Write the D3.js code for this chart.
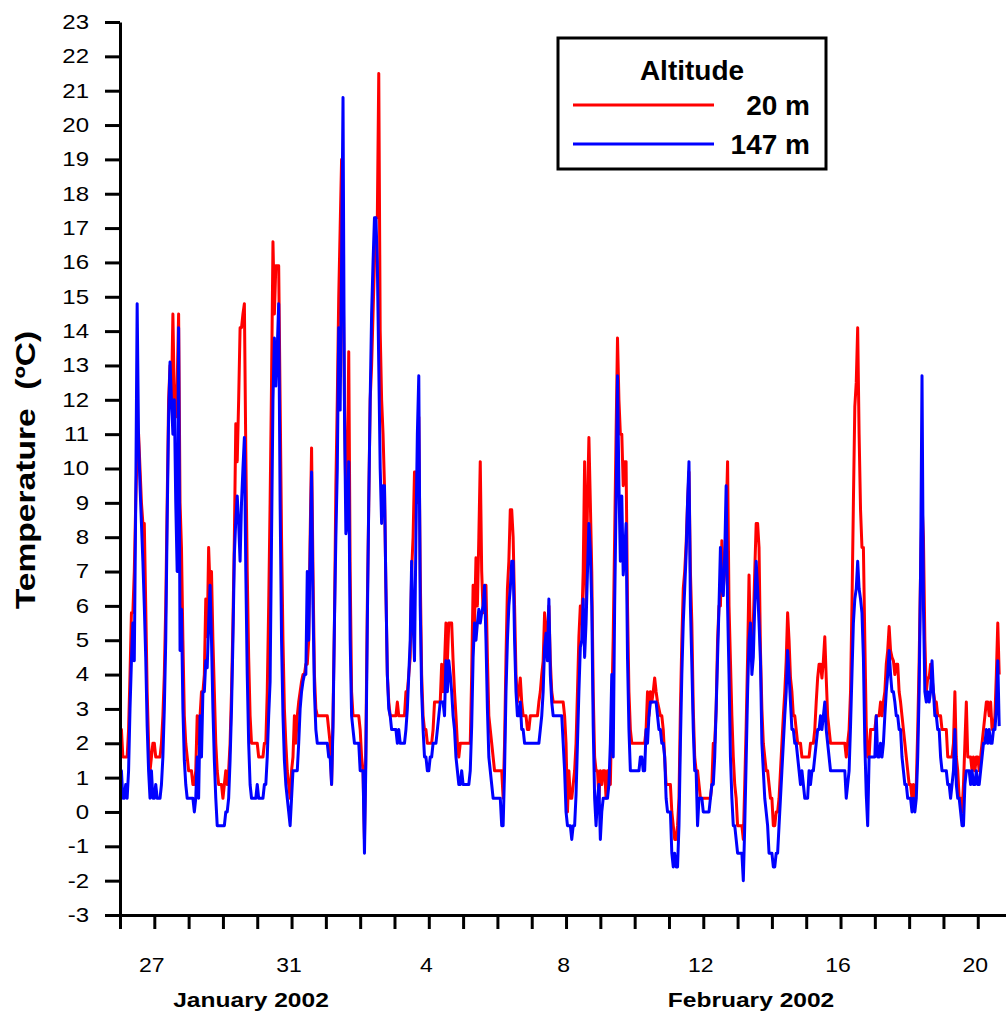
<!DOCTYPE html>
<html>
<head>
<meta charset="utf-8">
<script src="https://cdn.jsdelivr.net/npm/d3@7"></script>
<style>
body { margin: 0; background: #fff; }
svg text { font-family: "Liberation Sans", Arial, Helvetica, sans-serif; fill: #000; }
</style>
</head>
<body>
<svg id="chart" width="1006" height="1014"></svg>
<script>
// hourly readings, first value = 26 Jan 2002 00:00 (one row per day)
var startTime = Date.UTC(2002, 0, 26);

var red20m = [
  2.4,2.4,1.6,1.6,1.6,1.6,2.4,4.0,5.8,5.8,7.0,9.0,10.5,11.0,10.0,9.0,8.4,8.4,6.0,3.5,2.0,1.2,1.6,2.0,
  2.0,1.6,1.6,1.6,1.6,2.0,2.8,4.0,6.0,9.0,12.0,13.0,12.0,14.5,12.0,11.5,12.5,14.5,9.0,7.7,5.0,2.8,2.0,1.6,
  1.2,1.2,1.2,0.8,0.8,1.2,2.8,2.0,2.8,3.5,3.5,4.0,6.2,5.1,7.7,6.5,7.0,5.0,3.5,2.0,1.2,0.8,0.8,0.8,
  0.4,0.8,1.2,0.8,1.2,2.0,3.5,5.5,8.0,11.3,10.2,12.0,14.1,14.1,14.5,14.8,10.5,7.0,4.5,2.8,2.0,2.0,2.0,2.0,
  2.0,1.6,1.6,1.6,1.6,2.0,2.0,3.5,6.0,9.0,12.5,16.6,14.5,15.9,15.9,15.9,12.0,8.0,5.0,3.0,2.0,1.2,0.8,0.4,
  1.2,1.6,2.8,2.0,2.8,3.2,3.5,3.8,4.0,4.0,4.3,4.3,5.0,8.0,10.6,7.0,4.0,3.0,2.8,2.8,2.8,2.8,2.8,2.8,
  2.8,2.8,2.4,2.0,0.8,2.8,5.5,9.5,12.0,15.0,17.0,19.0,16.0,12.0,9.0,9.5,13.4,7.0,3.5,2.8,2.8,2.8,2.8,2.8,
  2.4,1.6,1.2,-0.8,2.0,6.0,9.0,12.0,13.0,14.5,16.0,17.3,17.3,21.5,14.0,12.0,11.0,9.5,6.5,4.0,3.2,2.8,2.8,2.8,
  2.8,2.8,3.2,2.8,2.8,2.8,2.8,2.8,3.5,3.5,4.0,4.5,7.0,8.0,9.9,9.9,9.0,11.5,7.0,4.0,2.8,2.4,2.4,2.0,
  2.0,2.0,2.0,2.4,3.2,3.2,3.2,3.2,3.2,4.3,3.5,4.3,5.5,4.4,5.5,5.5,5.5,4.4,3.5,2.8,2.0,1.6,2.0,2.0,
  2.0,2.0,2.0,2.0,2.0,2.0,4.0,6.6,5.5,7.4,6.0,8.0,10.2,7.0,5.8,6.3,6.6,4.5,2.8,2.4,2.0,1.6,1.2,1.2,
  1.2,1.2,1.2,1.2,0.4,2.0,4.5,6.5,7.3,8.8,8.8,8.0,6.0,4.0,3.2,3.5,3.9,3.2,2.8,2.8,2.8,2.4,2.4,2.8,
  2.8,2.8,2.8,2.8,2.8,3.2,3.5,4.0,4.4,5.8,5.0,5.2,6.0,4.4,3.5,3.2,3.2,3.2,3.2,3.2,3.2,3.2,3.2,2.8,
  2.0,0.0,1.2,0.4,0.4,0.8,1.2,2.0,3.5,5.1,6.0,5.5,7.0,10.2,6.0,9.0,10.9,9.0,7.0,3.5,1.6,1.2,1.2,0.4,
  1.2,0.8,1.2,1.2,0.4,1.2,1.2,0.8,3.0,5.1,8.0,11.0,13.8,12.0,11.0,11.0,9.5,10.2,10.2,6.0,3.5,2.4,2.0,2.0,
  2.0,2.0,2.0,2.0,2.0,2.0,2.0,2.0,2.4,3.5,2.8,3.5,3.2,3.5,3.9,3.5,3.2,3.0,2.8,2.8,2.4,1.6,0.8,0.8,
  0.8,0.8,0.0,-0.4,-0.8,-0.8,-0.4,0.4,3.0,5.0,6.5,7.0,7.8,9.0,9.9,7.0,5.5,3.0,1.6,1.2,1.2,0.8,0.4,0.4,
  0.4,0.4,0.4,0.4,0.4,0.4,0.8,2.0,2.0,3.0,5.0,6.0,6.0,7.9,6.5,7.0,8.5,10.2,6.0,4.4,2.8,1.6,0.8,0.4,
  -0.4,-0.4,-0.4,-0.4,-0.8,0.8,2.5,4.5,6.9,5.0,4.5,5.5,7.0,8.4,8.4,7.7,4.7,3.0,2.0,1.6,1.2,1.2,0.8,0.4,
  0.4,-0.4,-0.4,0.0,0.0,0.4,1.2,2.0,2.8,3.5,4.4,5.8,5.0,3.9,3.5,2.8,2.8,2.4,2.0,2.0,2.0,1.6,1.6,1.6,
  1.6,1.6,1.6,2.0,2.0,2.0,2.4,3.2,3.9,4.3,4.3,3.9,4.4,5.1,3.9,2.8,2.4,2.0,2.0,2.0,2.0,2.0,2.0,2.0,
  2.0,2.0,2.0,2.0,1.6,2.0,2.4,3.5,6.0,9.0,11.8,12.5,14.1,11.0,8.8,7.7,7.7,5.0,2.5,1.6,1.6,2.4,2.4,2.4,
  2.4,2.8,2.8,2.8,3.2,2.8,3.2,3.5,4.3,4.7,5.4,4.7,4.5,4.4,4.0,4.3,4.3,3.5,3.2,2.8,2.4,2.0,1.6,1.2,
  0.8,0.8,0.4,0.8,0.4,0.8,2.4,4.4,7.0,9.0,8.0,5.0,3.5,3.9,3.9,4.3,3.9,3.5,3.2,3.2,2.8,2.8,2.8,2.4,
  2.4,2.4,2.4,1.6,1.6,1.6,1.6,2.0,3.5,1.6,1.2,0.4,0.4,0.0,0.8,2.0,3.2,1.6,1.6,1.6,1.2,1.6,1.2,1.6,
  1.6,1.2,1.6,2.0,2.4,2.8,3.2,3.2,2.8,3.2,2.4,2.4,2.8,4.0,5.5,4.0
];

var blue147m = [
  1.2,1.2,0.4,0.4,0.8,0.4,1.2,3.0,4.4,5.5,4.4,9.0,14.8,10.8,9.5,8.4,7.3,6.0,4.5,2.5,1.2,0.4,1.2,0.4,
  0.4,0.8,0.4,0.4,0.4,0.8,1.6,3.0,5.0,8.5,11.5,13.1,12.0,11.0,12.0,9.0,7.0,14.1,4.7,5.9,3.0,1.5,0.8,0.4,
  0.4,0.4,0.4,0.4,0.0,0.4,1.6,0.4,2.8,1.6,3.5,3.5,4.4,4.2,5.5,6.6,5.0,3.0,1.5,0.4,-0.4,-0.4,-0.4,-0.4,
  -0.4,-0.4,0.0,0.0,0.4,1.5,3.0,5.0,7.5,8.5,9.2,8.4,7.3,9.0,10.0,10.9,7.0,4.0,2.0,0.8,0.4,0.4,0.4,0.4,
  0.8,0.4,0.4,0.4,0.4,0.8,0.8,1.6,2.8,3.8,8.0,12.0,13.8,12.4,13.5,14.8,9.0,5.0,2.8,1.5,0.8,0.4,0.0,-0.4,
  0.4,1.2,1.2,1.2,1.2,2.0,3.0,3.5,3.8,4.0,4.0,7.0,5.0,7.5,9.9,6.0,3.5,2.4,2.0,2.0,2.0,2.0,2.0,2.0,
  2.0,2.0,1.6,1.6,0.8,2.5,5.5,8.0,10.0,14.1,11.7,16.0,20.8,11.7,8.1,8.4,10.2,5.0,2.8,2.4,2.0,2.0,2.0,2.0,
  1.2,1.2,1.2,-1.2,1.5,5.5,9.0,12.0,14.5,16.0,17.3,17.3,16.0,13.0,10.0,8.4,9.5,9.5,6.5,4.0,3.0,2.8,2.4,2.4,
  2.4,2.4,2.0,2.4,2.0,2.0,2.0,2.0,2.4,3.0,4.0,5.0,7.3,5.5,4.4,8.0,11.0,12.7,6.0,3.5,2.4,1.6,1.6,1.2,
  1.2,1.6,1.6,2.0,2.0,2.0,2.4,2.8,3.2,3.2,3.2,2.8,4.4,3.5,4.4,4.0,3.5,2.8,2.4,1.6,1.2,0.8,0.8,1.2,
  0.8,0.8,0.8,0.8,0.8,1.2,2.5,4.5,5.5,5.0,5.5,5.9,5.5,5.8,6.0,6.6,5.0,3.0,1.6,1.2,0.8,0.4,0.4,0.4,
  0.4,0.4,0.4,-0.4,-0.4,1.2,3.5,5.0,6.0,6.5,7.3,7.3,5.0,3.5,2.8,2.8,3.2,2.4,2.4,2.0,2.0,2.0,2.0,2.0,
  2.0,2.0,2.0,2.0,2.0,2.0,2.4,2.8,3.5,4.8,5.2,4.4,6.2,4.0,3.2,2.8,2.8,2.8,2.8,2.8,2.8,2.8,2.0,1.2,
  0.0,-0.4,-0.4,-0.4,-0.8,-0.4,-0.4,0.5,2.0,3.5,4.8,5.0,6.2,4.5,5.5,7.0,8.4,7.6,6.0,2.5,0.4,-0.4,0.4,0.8,
  -0.8,0.0,0.4,0.4,0.4,0.4,0.8,2.0,4.0,1.6,6.0,9.0,12.7,9.5,7.3,9.2,6.9,7.5,8.4,4.5,2.4,1.2,1.2,1.2,
  1.2,1.2,1.2,1.2,1.6,1.6,1.2,1.2,2.4,2.0,2.8,3.2,3.2,3.2,3.2,3.2,2.8,2.4,2.4,2.0,2.0,1.6,0.4,0.0,
  0.0,0.0,-1.2,-1.6,-1.2,-1.6,-1.6,-0.4,2.0,4.0,5.5,6.5,7.5,9.0,10.2,6.0,4.3,2.4,1.2,1.2,-0.4,0.4,0.4,0.4,
  0.0,0.0,0.0,0.0,0.0,0.4,0.8,0.8,1.6,3.0,4.5,6.0,7.7,6.5,6.3,7.5,9.5,6.0,4.0,1.6,0.4,-0.4,-0.4,-0.8,
  -1.2,-1.2,-1.2,-1.2,-2.0,-0.4,1.5,3.5,5.0,5.5,4.0,4.5,6.0,7.3,6.5,5.5,4.4,2.0,1.2,0.4,0.0,-0.4,-1.2,-1.2,
  -1.2,-1.6,-1.6,-1.2,-1.2,-0.4,0.4,1.2,2.0,2.8,3.5,4.7,4.0,3.2,2.4,2.4,2.0,2.0,1.6,1.2,0.8,1.2,0.8,0.4,
  0.4,0.4,1.2,0.8,1.2,1.2,1.6,2.0,2.4,2.4,2.8,2.4,2.8,3.2,2.4,2.0,1.6,1.2,1.2,1.2,1.2,1.2,1.2,1.2,
  1.2,1.2,1.2,1.2,0.4,0.8,1.2,2.5,4.0,5.5,6.2,6.5,7.3,6.5,6.2,5.8,4.5,2.0,0.5,-0.4,1.6,1.6,1.6,1.6,
  1.6,2.8,1.6,1.6,2.0,1.6,2.0,2.8,3.5,4.0,4.7,4.0,3.5,3.5,3.2,2.8,2.8,2.4,2.4,1.6,1.2,0.8,0.8,0.4,
  0.4,0.4,0.0,0.4,0.0,0.4,1.6,3.5,7.0,12.7,6.0,3.5,3.2,3.5,3.2,3.5,4.4,3.5,2.8,2.8,2.4,2.4,1.6,1.2,
  1.2,1.2,1.2,0.8,0.8,0.4,0.8,1.2,2.4,0.8,0.4,0.4,0.0,-0.4,-0.4,0.8,1.2,1.2,1.2,0.8,1.2,0.8,0.8,1.2,
  0.8,0.8,1.2,1.6,2.0,2.0,2.4,2.0,2.4,2.0,2.0,2.4,2.4,3.0,4.4,2.5
];

var seriesNames = ["20 m", "147 m"];
var seriesColors = ["#ff0000", "#0000ff"];
var yTickValues = d3.range(-3, 24);
var xLabelDates = [
  Date.UTC(2002, 0, 27), Date.UTC(2002, 0, 31), Date.UTC(2002, 1, 4),
  Date.UTC(2002, 1, 8), Date.UTC(2002, 1, 12), Date.UTC(2002, 1, 16), Date.UTC(2002, 1, 20)
];
var monthLabels = ["January 2002", "February 2002"];

var margin = {top: 22, right: 0, bottom: 99, left: 120},
    width = 1006 - margin.left - margin.right,
    height = 1014 - margin.top - margin.bottom;

var svg = d3.select("#chart");
var g = svg.append("g")
    .attr("transform", "translate(" + margin.left + "," + margin.top + ")");

var x = d3.scaleUtc()
    .domain([new Date(startTime), new Date(Date.UTC(2002, 1, 20, 19, 45))])
    .range([0, width]);

var y = d3.scaleLinear()
    .domain([-3, 23])
    .range([height, 0]);

var hour = 3600 * 1000;
var line = d3.line()
    .x(function(d, i) { return x(new Date(startTime + i * hour)); })
    .y(function(d) { return y(d); });

// temperature lines, blue drawn on top
[red20m, blue147m].forEach(function(series, k) {
  g.append("path")
      .datum(series)
      .attr("fill", "none")
      .attr("stroke", seriesColors[k])
      .attr("stroke-width", 3)
      .attr("stroke-linejoin", "round")
      .attr("d", line);
});

// y axis (plain hyphen for negatives, like the original)
var yAxis = d3.axisLeft(y)
    .tickValues(yTickValues)
    .tickSize(15)
    .tickSizeOuter(0)
    .tickFormat(function(d) { return String(d); });

var gy = g.append("g").call(yAxis)
    .attr("font-family", null).attr("font-size", null);
gy.select(".domain").attr("stroke-width", 3);
gy.selectAll(".tick line").attr("stroke-width", 3);
gy.selectAll(".tick text")
    .attr("font-size", 20)
    .attr("x", -31 / 1.2)
    .attr("transform", "scale(1.2,1)");

// x axis: a tick every day, label every fourth day
var labelSet = xLabelDates.map(function(t) { return +t; });
var xAxis = d3.axisBottom(x)
    .ticks(d3.utcDay.every(1))
    .tickSize(14)
    .tickSizeOuter(0)
    .tickFormat(function(d) { return labelSet.indexOf(+d) >= 0 ? d3.utcFormat("%-d")(d) : ""; });

var gx = g.append("g")
    .attr("transform", "translate(0," + height + ")")
    .call(xAxis)
    .attr("font-family", null).attr("font-size", null);
gx.select(".domain").attr("stroke-width", 3);
gx.selectAll(".tick line").attr("stroke-width", 3);
gx.selectAll(".tick text")
    .attr("font-size", 20)
    .attr("y", 57)
    .attr("dy", 0)
    .attr("x", -3 / 1.15)
    .attr("transform", "scale(1.15,1)");

// month labels
var monthX = [251, 751];
monthLabels.forEach(function(m, i) {
  svg.append("text")
      .attr("transform", "translate(" + monthX[i] + ",1007) scale(1.17,1)")
      .attr("text-anchor", "middle")
      .attr("font-size", 21)
      .attr("font-weight", "bold")
      .text(m);
});

// y axis title
svg.append("text")
    .attr("transform", "translate(35,470) rotate(-90) scale(1.2,1)")
    .attr("text-anchor", "middle")
    .attr("font-size", 28)
    .attr("font-weight", "bold")
    .style("white-space", "pre")
    .text("Temperature  (\u00baC)");

// legend
var legend = svg.append("g");
legend.append("rect")
    .attr("x", 558).attr("y", 38)
    .attr("width", 268).attr("height", 131)
    .attr("fill", "#fff")
    .attr("stroke", "#000")
    .attr("stroke-width", 3);

legend.append("text")
    .attr("x", 692).attr("y", 80)
    .attr("text-anchor", "middle")
    .attr("font-size", 28)
    .attr("font-weight", "bold")
    .text("Altitude");

seriesNames.forEach(function(name, i) {
  var ly = 105 + i * 39;
  legend.append("line")
      .attr("x1", 573).attr("x2", 714)
      .attr("y1", ly).attr("y2", ly)
      .attr("stroke", seriesColors[i])
      .attr("stroke-width", 3);
  legend.append("text")
      .attr("x", 810).attr("y", ly + 10)
      .attr("text-anchor", "end")
      .attr("font-size", 28)
      .attr("font-weight", "bold")
      .text(name);
});
</script>
</body>
</html>
